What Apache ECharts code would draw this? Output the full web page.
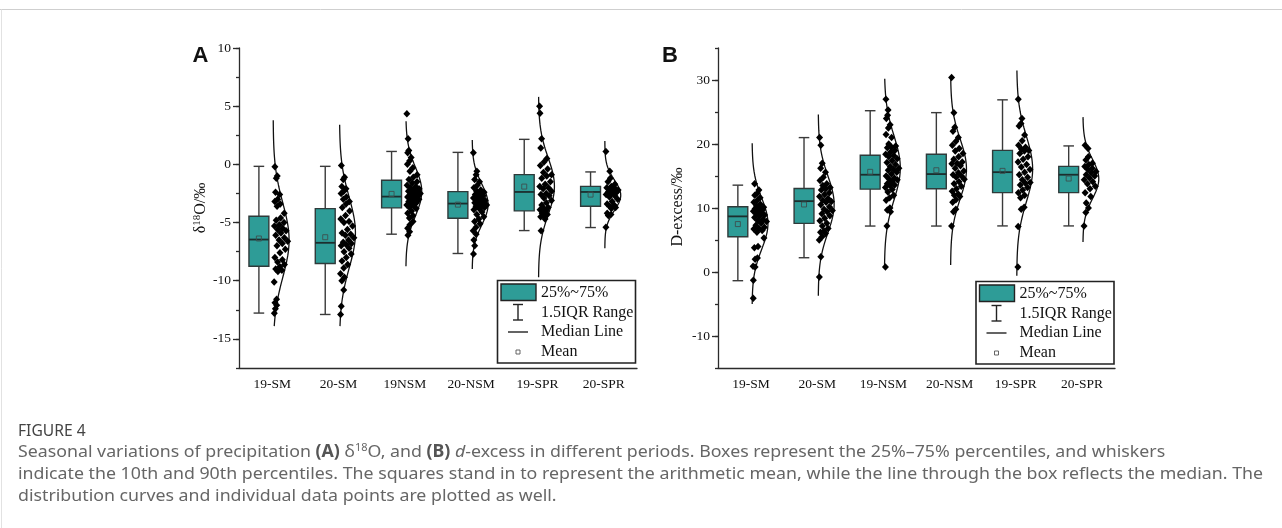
<!DOCTYPE html>
<html><head><meta charset="utf-8">
<script src="https://cdn.jsdelivr.net/npm/echarts@6/dist/echarts.min.js"></script>
<style>html,body{margin:0;padding:0;background:#fff}#c{width:1282px;height:528px}</style>
</head><body><div id="c"></div>
<script>
// ---------- DATA ----------
const categoriesA = ['19-SM','20-SM','19NSM','20-NSM','19-SPR','20-SPR'];
const categoriesB = ['19-SM','20-SM','19-NSM','20-NSM','19-SPR','20-SPR'];
const tickMajorA = [-15,-10,-5,0,5,10];
const tickMajorB = [-10,0,10,20,30];

// Panel A: δ18O box statistics
const aWhiskerHigh = [-0.17,-0.17,1.11,1.03,2.15,-0.65];
const aQ3          = [-4.46,-3.80,-1.37,-2.34,-0.88,-1.89];
const aMedian      = [-6.46,-6.74,-2.77,-3.37,-2.37,-2.37];
const aQ1          = [-8.75,-8.52,-3.74,-4.63,-4.00,-3.60];
const aWhiskerLow  = [-12.78,-12.90,-6.00,-7.66,-5.69,-5.43];
const aMean        = [-6.37,-6.26,-2.54,-3.46,-1.91,-2.60];
const aCurveTop    = [3.8,3.4,3.7,2.1,5.8,2.0];
const aCurveBottom = [-13.9,-13.9,-8.75,-9.0,-9.7,-7.2];

const a19SM  = [-0.2,-1.0,-1.2,-2.4,-2.6,-3.0,-3.2,-3.4,-3.6,-4.2,-4.6,-4.8,-5.0,-5.2,-5.3,-5.5,-5.6,-5.7,-5.9,-6.1,-6.3,-6.5,-6.6,-6.8,-7.0,-7.3,-7.6,-8.0,-8.2,-8.4,-8.6,-8.8,-9.0,-9.1,-9.2,-10.1,-11.6,-11.9,-12.1,-12.4,-12.8];
const a20SM  = [-0.1,-1.1,-1.3,-1.9,-2.1,-2.3,-2.5,-2.8,-3.0,-3.2,-3.4,-3.7,-4.0,-4.4,-4.7,-4.9,-5.0,-5.3,-5.6,-5.9,-6.0,-6.1,-6.3,-6.5,-6.7,-6.8,-6.9,-7.0,-7.2,-7.5,-7.7,-8.0,-8.3,-8.6,-8.9,-9.4,-9.7,-10.0,-10.8,-12.2,-12.9];
const a19NSM = [4.35,2.2,1.2,1.0,0.6,0.3,0.0,-0.3,-0.6,-0.9,-1.1,-1.3,-1.5,-1.6,-1.8,-1.9,-2.0,-2.1,-2.2,-2.3,-2.4,-2.5,-2.5,-2.6,-2.7,-2.7,-2.8,-2.8,-2.9,-3.0,-3.0,-3.1,-3.2,-3.3,-3.4,-3.5,-3.6,-3.7,-3.8,-4.0,-4.2,-4.4,-4.6,-4.9,-5.2,-5.5,-5.8,-6.1];
const a20NSM = [1.0,-0.6,-0.9,-1.3,-1.5,-1.8,-2.0,-2.2,-2.3,-2.4,-2.5,-2.6,-2.7,-2.8,-2.9,-3.0,-3.0,-3.1,-3.2,-3.3,-3.3,-3.4,-3.5,-3.6,-3.6,-3.7,-3.8,-3.9,-4.1,-4.3,-4.5,-4.7,-4.9,-5.1,-5.4,-5.7,-6.0,-6.5,-7.0,-7.7];
const a19SPR = [5.0,4.4,2.2,1.4,0.5,0.2,-0.1,-0.4,-0.7,-0.9,-1.0,-1.2,-1.5,-1.7,-1.9,-2.0,-2.1,-2.3,-2.5,-2.6,-2.7,-2.9,-3.1,-3.3,-3.5,-3.7,-3.8,-3.9,-4.0,-4.2,-4.3,-4.4,-4.5,-4.7,-5.7];
const a20SPR = [1.1,-0.6,-1.2,-1.5,-1.7,-1.9,-2.0,-2.0,-2.1,-2.2,-2.3,-2.4,-2.4,-2.5,-2.6,-2.7,-2.8,-3.0,-3.2,-3.4,-3.5,-3.6,-3.7,-3.8,-4.2,-4.3,-4.4,-5.4];

// Panel B: d-excess box statistics
const bWhiskerHigh = [13.57,21.0,25.2,24.9,26.9,19.7];
const bQ3          = [10.19,13.04,18.25,18.4,19.0,16.5];
const bMedian      = [8.69,11.07,15.2,15.3,15.6,15.2];
const bQ1          = [5.51,7.6,12.95,13.0,12.4,12.4];
const bWhiskerLow  = [-1.36,2.23,7.18,7.18,7.2,7.2];
const bMean        = [7.49,10.55,15.65,15.9,15.8,14.6];
const bCurveTop    = [20.1,24.6,30.2,30.5,31.5,24.2];
const bCurveBottom = [-5.0,-3.7,0.6,1.1,-0.6,4.7];

const b19SM  = [13.8,12.8,12.3,12.0,11.6,11.2,10.9,10.6,10.3,10.1,10.0,9.9,9.7,9.6,9.5,9.3,9.1,8.9,8.7,8.5,8.2,8.0,7.9,7.6,7.3,7.0,6.8,6.7,6.5,6.2,5.3,4.0,3.8,2.2,2.0,0.9,0.8,-1.3,-4.1];
const b20SM  = [21.0,19.8,17.0,16.2,15.6,14.8,14.3,13.8,13.5,13.2,13.0,12.8,12.4,12.1,11.8,11.5,11.2,11.0,10.9,10.5,10.2,9.8,9.6,9.4,9.1,8.8,8.4,8.0,7.6,7.2,6.8,6.4,6.2,6.0,5.5,5.0,2.4,-0.8];
const b19NSM = [27.0,25.3,24.5,24.0,23.0,22.5,21.5,21.0,20.0,19.7,19.5,19.4,19.0,18.7,18.4,18.2,18.0,17.7,17.4,17.1,16.8,16.5,16.2,16.0,15.9,15.6,15.3,15.0,14.7,14.5,14.4,14.1,13.8,13.6,13.5,13.2,12.9,12.5,12.0,11.6,11.2,10.0,9.7,9.4,7.2,0.8];
const b20NSM = [30.4,24.9,22.6,22.0,21.0,20.4,19.8,19.3,18.9,18.5,18.0,17.6,17.2,17.0,16.9,16.6,16.2,15.8,15.5,15.2,15.0,14.8,14.5,14.1,13.8,13.4,13.0,12.6,12.2,12.0,11.8,11.3,10.9,9.8,9.4,7.2];
const b19SPR = [27.0,24.0,23.2,22.8,21.4,20.5,19.8,19.5,19.2,19.0,18.9,18.5,18.0,17.6,17.2,16.8,16.4,16.0,15.6,15.2,14.8,14.4,14.0,13.9,13.6,13.2,12.8,12.4,12.0,11.6,10.1,9.8,7.1,0.8];
const b20SPR = [19.8,19.3,18.0,17.5,17.0,16.8,16.5,16.2,16.0,15.7,15.5,15.2,15.0,14.7,14.4,14.1,13.8,13.4,13.0,12.4,11.8,10.8,10.0,9.3,7.2];

const pointsA = [a19SM,a20SM,a19NSM,a20NSM,a19SPR,a20SPR];
const pointsB = [b19SM,b20SM,b19NSM,b20NSM,b19SPR,b20SPR];

// ---------- BUILD ----------
const TEAL = '#2e9c97';
const SERIF = 'Liberation Serif';
const PEAK = 0.24, BASE = 0.015;

function mean(a){return a.reduce((s,v)=>s+v,0)/a.length;}
function sdev(a){const m=mean(a);return Math.sqrt(a.reduce((s,v)=>s+(v-m)*(v-m),0)/(a.length-1));}

function buildPanel(ptsList, top, bottom){
  const curves=[], scatter=[];
  ptsList.forEach((pts,i)=>{
    const c=i+0.5, m=mean(pts), s=sdev(pts);
    const w=y=>PEAK*Math.exp(-(y-m)*(y-m)/(2*s*s));
    const line=[]; const N=90;
    for(let k=0;k<=N;k++){const y=bottom[i]+(top[i]-bottom[i])*k/N; line.push([c+BASE+w(y),y]);}
    curves.push(line);
    const sorted=pts.slice().sort((a,b)=>b-a);
    sorted.forEach((y,k)=>{const u=((k*0.618034+0.37)%1); scatter.push([c+BASE+0.015+u*w(y)*0.88,y]);});
  });
  return {curves,scatter};
}
function boxData(hi,q3,med,q1,lo,mn){return hi.map((v,i)=>[i+0.5,hi[i],q3[i],med[i],q1[i],lo[i],mn[i]]);}

function renderBox(params, api){
  const c=api.value(0);
  const xl=c-0.35, xr=c-0.05, xm=c-0.2, cap=0.08;
  const P=(x,y)=>api.coord([x,y]);
  const hi=api.value(1), q3=api.value(2), md=api.value(3), q1=api.value(4), lo=api.value(5), mn=api.value(6);
  const pHi=P(xm,hi), pQ3=P(xm,q3), pQ1=P(xm,q1), pLo=P(xm,lo);
  const tl=P(xl,q3), br=P(xr,q1);
  const capL=P(xm-cap,hi)[0], capR=P(xm+cap,hi)[0];
  const mL=P(xl,md), mR=P(xr,md), pm=P(xm,mn);
  const ls={stroke:'#3a3a3a',lineWidth:1.4};
  return {type:'group',children:[
    {type:'line',shape:{x1:pHi[0],y1:pHi[1],x2:pQ3[0],y2:pQ3[1]},style:ls},
    {type:'line',shape:{x1:pQ1[0],y1:pQ1[1],x2:pLo[0],y2:pLo[1]},style:ls},
    {type:'line',shape:{x1:capL,y1:pHi[1],x2:capR,y2:pHi[1]},style:ls},
    {type:'line',shape:{x1:capL,y1:pLo[1],x2:capR,y2:pLo[1]},style:ls},
    {type:'rect',shape:{x:tl[0],y:tl[1],width:br[0]-tl[0],height:br[1]-tl[1]},style:{fill:TEAL,stroke:'#2f3a3a',lineWidth:1.4}},
    {type:'line',shape:{x1:mL[0],y1:mL[1],x2:mR[0],y2:mR[1]},style:{stroke:'#1c2e2e',lineWidth:1.8}},
    {type:'rect',shape:{x:pm[0]-2.5,y:pm[1]-2.5,width:5,height:5},style:{fill:'none',stroke:'#3d4f4f',lineWidth:0.9}}
  ]};
}

const pA=buildPanel(pointsA,aCurveTop,aCurveBottom);
const pB=buildPanel(pointsB,bCurveTop,bCurveBottom);

const axisLineStyle={color:'#2b2b2b',width:1.3};
function catAxis(grid,cats){
  return {gridIndex:grid,type:'category',data:cats,position:'bottom',boundaryGap:true,
    axisLine:{onZero:false,lineStyle:axisLineStyle},axisTick:{alignWithLabel:true,length:4,lineStyle:axisLineStyle},
    axisLabel:{color:'#111',fontFamily:SERIF,fontSize:13.5,margin:9},splitLine:{show:false}};
}
function valX(grid){return {gridIndex:grid,type:'value',min:0,max:6,position:'bottom',show:false,axisLine:{onZero:false},splitLine:{show:false}};}
function yMain(grid,min,max,step,labelStep){
  return {gridIndex:grid,type:'value',min:min,max:max,interval:step,position:'left',
    axisLine:{show:true,onZero:false,lineStyle:axisLineStyle},axisTick:{show:true,length:3,lineStyle:axisLineStyle},
    axisLabel:{color:'#111',fontFamily:SERIF,fontSize:13.5,margin:8,
      formatter:v=>{const r=Math.abs(v%labelStep);return (r<1e-6||Math.abs(r-labelStep)<1e-6)?String(Math.round(v)):'';}},
    splitLine:{show:false}};
}
function yMajor(grid,min,max,ticks){
  return {gridIndex:grid,type:'value',min:min,max:max,position:'left',
    axisLine:{show:false,onZero:false},axisLabel:{show:false},splitLine:{show:false},
    axisTick:{show:true,length:6,customValues:ticks,lineStyle:axisLineStyle}};
}

const series=[];
function addPanel(p,xIdx,yIdx,bd){
  series.push({type:'custom',xAxisIndex:xIdx,yAxisIndex:yIdx,renderItem:renderBox,data:bd,encode:{x:0,y:[1,5]},z:2,silent:true});
  p.curves.forEach(c=>series.push({type:'line',xAxisIndex:xIdx,yAxisIndex:yIdx,data:c,showSymbol:false,symbol:'none',
    lineStyle:{color:'#111',width:1.3},z:3,silent:true,animation:false}));
  series.push({type:'scatter',xAxisIndex:xIdx,yAxisIndex:yIdx,data:p.scatter,symbol:'diamond',symbolSize:[7,7.5],
    itemStyle:{color:'#000',opacity:1},z:4,silent:true});
}
addPanel(pA,1,0,boxData(aWhiskerHigh,aQ3,aMedian,aQ1,aWhiskerLow,aMean));
addPanel(pB,3,2,boxData(bWhiskerHigh,bQ3,bMedian,bQ1,bWhiskerLow,bMean));

// legend builder
function legend(x0,y0){
  const tx=x0+43.5, f=`16px "${SERIF}"`;
  const t=(y,s)=>({type:'text',x:tx,y:y0+y,z:11,style:{text:s,font:f,fill:'#111',verticalAlign:'middle',align:'left'}});
  const ls={stroke:'#222',lineWidth:1.4};
  const wx=x0+20.5;
  return [
    {type:'rect',shape:{x:x0,y:y0,width:138,height:82.5},style:{fill:'#fff',stroke:'#222',lineWidth:1.6},z:10},
    {type:'rect',shape:{x:x0+3.5,y:y0+3.5,width:35,height:16.5},style:{fill:TEAL,stroke:'#222',lineWidth:1.4},z:11},
    {type:'line',shape:{x1:wx,y1:y0+24,x2:wx,y2:y0+39.5},style:ls,z:11},
    {type:'line',shape:{x1:wx-5,y1:y0+24,x2:wx+5,y2:y0+24},style:ls,z:11},
    {type:'line',shape:{x1:wx-5,y1:y0+39.5,x2:wx+5,y2:y0+39.5},style:ls,z:11},
    {type:'line',shape:{x1:x0+10.5,y1:y0+51.5,x2:x0+30.5,y2:y0+51.5},style:ls,z:11},
    {type:'rect',shape:{x:wx-2,y:y0+69.5,width:4,height:4},style:{fill:'none',stroke:'#555',lineWidth:0.9},z:11},
    t(12,'25%~75%'), t(32,'1.5IQR Range'), t(51.5,'Median Line'), t(71.5,'Mean')
  ];
}

// caption
const capLine1='Seasonal variations of precipitation {b|(A)} δ{sup|18}O, and {b|(B)} {i|d}-excess in different periods. Boxes represent the 25%–75% percentiles, and whiskers';
const capLine2='indicate the 10th and 90th percentiles. The squares stand in to represent the arithmetic mean, while the line through the box reflects the median. The';
const capLine3='distribution curves and individual data points are plotted as well.';
const CAPFONT='Noto Sans', CAPSIZE=17, CAPCOLOR='#666';
const cv=document.createElement('canvas').getContext('2d');
cv.font=`${CAPSIZE}px "${CAPFONT}"`;
const capScale=1245/cv.measureText(capLine2).width;
const capRich={b:{fontWeight:'bold',fontFamily:CAPFONT,fontSize:CAPSIZE,fill:'#555'},
  i:{fontStyle:'italic',fontFamily:CAPFONT,fontSize:CAPSIZE,fill:CAPCOLOR},
  sup:{fontFamily:CAPFONT,fontSize:10.5,fill:CAPCOLOR,padding:[0,0,8,0]}};
function capText(y,s){return {type:'text',x:18,y:y,scaleX:capScale,style:{text:s,rich:capRich,fontFamily:CAPFONT,fontSize:CAPSIZE,fill:CAPCOLOR,verticalAlign:'middle',align:'left'}};}

const axisNameRich={sup:{fontFamily:SERIF,fontSize:11,fill:'#111',padding:[0,0,8,0]}};
const graphics=[
  {type:'line',shape:{x1:0,y1:9.5,x2:1282,y2:9.5},style:{stroke:'#cfcfcf',lineWidth:1}},
  {type:'line',shape:{x1:1.5,y1:9.5,x2:1.5,y2:528},style:{stroke:'#e2e2e2',lineWidth:1}},
  {type:'text',x:200.5,y:55.5,style:{text:'A',font:'bold 22px "Liberation Sans"',fill:'#111',align:'center',verticalAlign:'middle'}},
  {type:'text',x:670,y:55.5,style:{text:'B',font:'bold 22px "Liberation Sans"',fill:'#111',align:'center',verticalAlign:'middle'}},
  {type:'text',x:201,y:208,rotation:Math.PI/2,style:{text:'δ{sup|18}O/‰',rich:axisNameRich,fontFamily:SERIF,fontSize:16,fill:'#111',align:'center',verticalAlign:'middle'}},
  {type:'text',x:678,y:207,rotation:Math.PI/2,style:{text:'D-excess/‰',fontFamily:SERIF,fontSize:16,fill:'#111',align:'center',verticalAlign:'middle'}},
  {type:'text',x:18,y:431,scaleX:capScale*0.88,style:{text:'FIGURE 4',fontFamily:CAPFONT,fontSize:CAPSIZE,fill:'#444',verticalAlign:'middle',align:'left'}},
  capText(452,capLine1),capText(474,capLine2),capText(496,capLine3)
].concat(legend(497.5,280.5)).concat(legend(976,281.5));

const option={
  animation:false,
  backgroundColor:'#fff',
  grid:[{left:239,top:48,width:398,height:320,containLabel:false},{left:718,top:48,width:397,height:320,containLabel:false}],
  xAxis:[catAxis(0,categoriesA),valX(0),catAxis(1,categoriesB),valX(1)],
  yAxis:[yMain(0,-17.5,10,2.5,5),yMajor(0,-17.5,10,tickMajorA),yMain(1,-15,35,5,10),yMajor(1,-15,35,tickMajorB)],
  series:series,
  graphic:graphics
};
const chart=echarts.init(document.getElementById('c'),null,{renderer:'canvas',width:1282,height:528});
chart.setOption(option);
</script></body></html>
